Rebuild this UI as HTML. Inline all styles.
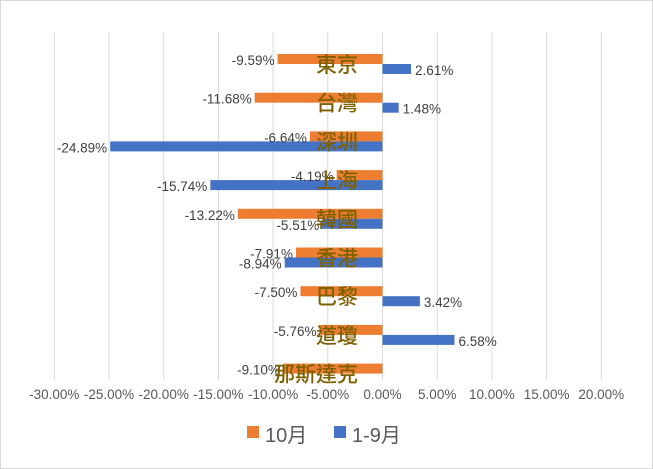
<!DOCTYPE html>
<html><head><meta charset="utf-8"><style>
html,body{margin:0;padding:0;background:#fff;}
svg{display:block;font-family:"Liberation Sans","Noto Sans CJK TC",sans-serif;}
</style></head><body>
<svg id="c" width="653" height="469" viewBox="0 0 653 469">
<rect x="0.5" y="0.5" width="652" height="468" fill="#fff" stroke="#d9d9d9"/>
<g id="grid"></g><g id="bars"></g><g id="labels"></g><g id="xaxis"></g>
<g>
<rect x="247" y="426" width="12" height="12" fill="#ed7d31"/>
<text x="265" y="442" font-size="20" fill="#595959">10月</text>
<rect x="334" y="426" width="12" height="12" fill="#4472c4"/>
<text x="352" y="442" font-size="20" fill="#595959">1-9月</text>
</g>
</svg>
<script>
const categories=["東京","台灣","深圳","上海","韓國","香港","巴黎","道瓊","那斯達克"];
const octValues=[-9.59,-11.68,-6.64,-4.19,-13.22,-7.91,-7.50,-5.76,-9.10];
const ytdValues=[2.61,1.48,-24.89,-15.74,-5.51,-8.94,3.42,6.58,null];
const ticks=[-30,-25,-20,-15,-10,-5,0,5,10,15,20];
const NS="http://www.w3.org/2000/svg";
const x0=382.5, pxPer=10.94;
function X(v){return x0+v*pxPer;}
function rowY(i){return 54+i*38.7;}
function mk(tag,attrs,parent){const e=document.createElementNS(NS,tag);for(const k in attrs)e.setAttribute(k,attrs[k]);parent.appendChild(e);return e;}
const grid=document.getElementById('grid'),bars=document.getElementById('bars'),labels=document.getElementById('labels'),xa=document.getElementById('xaxis');
ticks.forEach(t=>{
 const l=mk('line',{x1:X(t),x2:X(t),y1:32,y2:380,stroke:'#d9d9d9','stroke-width':1},grid);
 
 
 const tx=mk('text',{x:X(t),y:399,'font-size':13.5,fill:'#595959','text-anchor':'middle'},xa);
 tx.textContent=t.toFixed(2)+'%';
 
 
});
function drawBar(v,y,color,name){
 if(v===null)return;
 const a=Math.min(X(0),X(v)),w=Math.abs(X(v)-X(0));
 const r=mk('rect',{x:a,y:y,width:w,height:10,fill:color},bars);
 
 
 const t=mk('text',{y:y+11,'font-size':13.5,fill:'#404040'},labels);
 if(v<0){t.setAttribute('x',X(v)-3);t.setAttribute('text-anchor','end');}
 else{t.setAttribute('x',X(v)+4);}
 t.textContent=v.toFixed(2)+'%';
 
 
}
categories.forEach((c,i)=>{
 const y=rowY(i);
 drawBar(octValues[i],y,'#ed7d31','bar-oct');
 drawBar(ytdValues[i],y+10,'#4472c4','bar-jan-sep');
 const t=mk('text',{x:358,y:y+18,'font-size':21,'font-weight':'500',fill:'#7f6000','text-anchor':'end'},labels);
 t.textContent=c;
 
 
});
</script>
</body></html>
